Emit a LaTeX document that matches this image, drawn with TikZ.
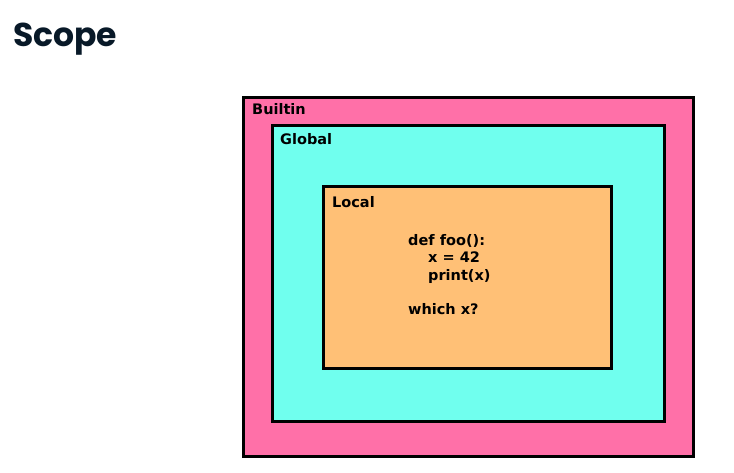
\documentclass[tikz,border=0pt]{standalone}
\usepackage{fontspec}
\setmainfont{DejaVu Sans}
\newfontfamily\titlefont{Poppins}
\usepackage{xcolor}
\usepackage{tikz}
\usetikzlibrary{positioning}

\definecolor{builtinpink}{RGB}{255,112,168}
\definecolor{globalcyan}{RGB}{112,255,238}
\definecolor{localorange}{RGB}{255,192,118}
\definecolor{titlenavy}{RGB}{8,25,40}

\begin{document}
\begin{tikzpicture}[
    x=1pt, y=-1pt,
    font=\fontsize{14.5}{17.5}\selectfont\bfseries,
    scopebox/.style={rectangle, draw=black, line width=3pt, outer sep=0pt, inner sep=0pt, anchor=north west},
    boxlabel/.style={anchor=base west, inner sep=0pt},
    title/.style={anchor=base west, inner sep=0pt, font=\titlefont\bfseries\fontsize{33}{36}\selectfont, color=titlenavy}
]
\useasboundingbox (0,0) rectangle (734,473);

% =========================================================
% Title
% =========================================================
\node[title] (scope_t) at (13,47) {Scope};

% =========================================================
% Nested scopes
% =========================================================
\node[scopebox, fill=builtinpink, minimum width=450pt, minimum height=359pt] (builtin) at (243.5,97.5) {};
\node[scopebox, fill=globalcyan,  minimum width=392pt, minimum height=296pt] (global)  at (272.5,125.5) {};
\node[scopebox, fill=localorange, minimum width=288pt, minimum height=182pt] (local)   at (323.5,186.5) {};

\node[boxlabel] (builtin_l) at (252,115) {Builtin};
\node[boxlabel] (global_l)  at (280,145) {Global};
\node[boxlabel] (local_l)   at (332,208) {Local};

% code inside the local scope (anchored at the last line)
\node[anchor=base west, inner sep=0pt, align=left] (code) at (408,315)
   {def foo():\\\hspace*{20pt}x = 42\\\hspace*{20pt}print(x)\\[17.5pt]which x?};

\end{tikzpicture}
\end{document}
